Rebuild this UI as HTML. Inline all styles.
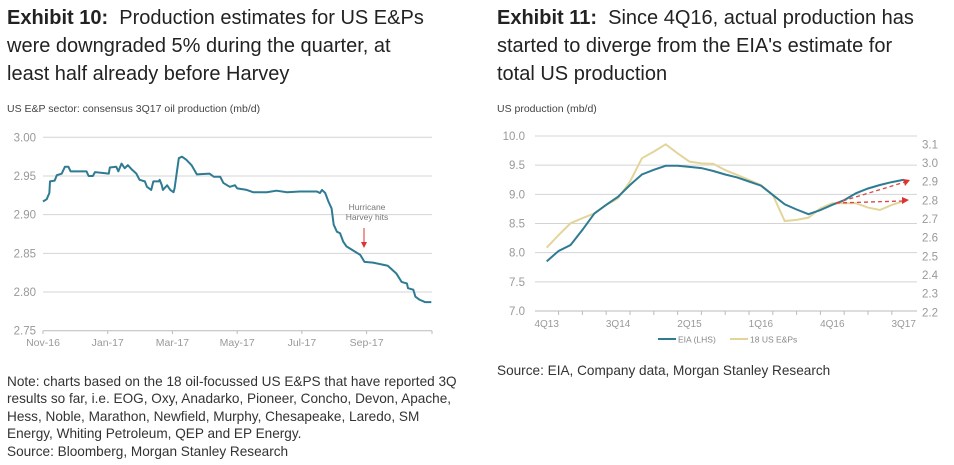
<!DOCTYPE html>
<html><head><meta charset="utf-8">
<style>
html,body{margin:0;padding:0;background:#fff;width:954px;height:465px;overflow:hidden;font-family:"Liberation Sans",sans-serif;color:#222}
.t{position:absolute;font-size:20px;line-height:28px;color:#222;white-space:nowrap}
.note{position:absolute;font-size:13.6px;line-height:17.4px;color:#333;white-space:nowrap}
svg{position:absolute;left:0;top:0}
</style></head><body>
<div class="t" style="left:7px;top:4px"><b>Exhibit 10:</b>&nbsp; Production estimates for US E&amp;Ps<br>were downgraded 5% during the quarter, at<br>least half already before Harvey</div>
<div class="t" style="left:497px;top:4px"><b>Exhibit 11:</b>&nbsp; Since 4Q16, actual production has<br>started to diverge from the EIA's estimate for<br>total US production</div>
<div class="note" style="left:7px;top:373px">Note: charts based on the 18 oil-focussed US E&amp;PS that have reported 3Q<br>results so far, i.e. EOG, Oxy, Anadarko, Pioneer, Concho, Devon, Apache,<br>Hess, Noble, Marathon, Newfield, Murphy, Chesapeake, Laredo, SM<br>Energy, Whiting Petroleum, QEP and EP Energy.<br>Source: Bloomberg, Morgan Stanley Research</div>
<div class="note" style="left:497px;top:362px">Source: EIA, Company data, Morgan Stanley Research</div>
<svg id="s" width="954" height="465" xmlns="http://www.w3.org/2000/svg" font-family="Liberation Sans, sans-serif"></svg>
<script>
// Left chart data
const leftTicks=["2.75","2.80","2.85","2.90","2.95","3.00"];
const leftXLabels=["Nov-16","Jan-17","Mar-17","May-17","Jul-17","Sep-17"];
const leftDays=[0,3.5,6,6.6,11,13,17.6,20.7,23.9,26,41,43,47,49,62,63,69,71,74,77,80,84,88,91,96,98,102,104,109,110,112,113,117,120,123,124,128,131,135,140,145,157,161,167,170,176,181,183,192,198,211,220,230,242,258,261,263,266,269,272,274,277,280,283,286,299,303,311,325,333,338,343,344,349,351,355,360,366];
const leftVals=[2.917,2.920,2.928,2.943,2.944,2.951,2.953,2.962,2.962,2.956,2.956,2.950,2.950,2.955,2.953,2.961,2.962,2.956,2.966,2.960,2.964,2.958,2.953,2.945,2.943,2.936,2.932,2.943,2.943,2.945,2.938,2.932,2.938,2.932,2.929,2.934,2.973,2.975,2.971,2.964,2.952,2.953,2.949,2.949,2.941,2.936,2.938,2.934,2.932,2.929,2.929,2.931,2.929,2.930,2.930,2.928,2.932,2.928,2.917,2.908,2.887,2.878,2.876,2.865,2.859,2.848,2.839,2.838,2.834,2.824,2.813,2.811,2.805,2.803,2.794,2.790,2.787,2.787];
// Right chart data
const rightCats=["4Q13","1Q14","2Q14","3Q14","4Q14","1Q15","2Q15","3Q15","4Q15","1Q16","2Q16","3Q16","4Q16","1Q17","2Q17","3Q17"];
const rightLabels=["4Q13","3Q14","2Q15","1Q16","4Q16","3Q17"];
const leftAxisTicks=["7.0","7.5","8.0","8.5","9.0","9.5","10.0"];
const rightAxisTicks=["2.2","2.3","2.4","2.5","2.6","2.7","2.8","2.9","3.0","3.1"];
const eiaVals=[7.85,8.03,8.13,8.39,8.67,8.82,8.96,9.16,9.34,9.42,9.49,9.49,9.47,9.45,9.40,9.34,9.29,9.22,9.15,8.99,8.83,8.74,8.66,8.73,8.82,8.90,9.02,9.10,9.16,9.21,9.25];
const epVals=[2.546,2.614,2.677,2.704,2.730,2.775,2.811,2.900,3.025,3.061,3.100,3.052,3.007,2.998,2.995,2.962,2.936,2.909,2.882,2.829,2.689,2.695,2.707,2.757,2.784,2.784,2.784,2.761,2.748,2.775,2.796];

const s=document.getElementById('s');
const NS='http://www.w3.org/2000/svg';
function mk(tag,a,txt){const e=document.createElementNS(NS,tag);for(const k in a)e.setAttribute(k,a[k]);if(txt!==undefined)e.textContent=txt;s.appendChild(e);return e;}

// ---- Left chart ----
const lx=d=>43+d*1.061, ly=v=>330.7-(v-2.75)/0.25*193.4;
let e=mk('text',{x:7,y:112,'font-size':10.5,fill:'#444'},'US E&P sector: consensus 3Q17 oil production (mb/d)');

leftTicks.forEach(t=>{const y=ly(+t);
 if(+t>2.76){e=mk('line',{x1:43,x2:432,y1:y,y2:y,stroke:'#d4d4d4','stroke-width':1});}
 e=mk('text',{x:36,y:y+4,'font-size':11.5,fill:'#999','text-anchor':'end'},t);
 });
e=mk('line',{x1:43,x2:432,y1:330.7,y2:330.7,stroke:'#bbb'});
leftXLabels.forEach((t,i)=>{const x=lx(i*61);
 e=mk('line',{x1:x,x2:x,y1:330.7,y2:334,stroke:'#bbb'});
 e=mk('text',{x:x,y:346,'font-size':10.5,fill:'#999','text-anchor':'middle'},t);
 });
e=mk('line',{x1:432,x2:432,y1:330.7,y2:334,stroke:'#bbb'});
e=mk('polyline',{points:leftDays.map((d,i)=>lx(d)+','+ly(leftVals[i])).join(' '),fill:'none',stroke:'#2f7b93','stroke-width':2,'stroke-linejoin':'round'});

e=mk('text',{x:367,y:210,'font-size':8.5,fill:'#777','text-anchor':'middle'},'Hurricane');
e=mk('text',{x:367,y:220,'font-size':8.5,fill:'#777','text-anchor':'middle'},'Harvey hits');
e=mk('line',{x1:364,x2:364,y1:228,y2:243,stroke:'#d33','stroke-width':1});
e=mk('polygon',{points:'361,242 367,242 364,248',fill:'#d33'});

// ---- Right chart ----
const rx=i=>546.7+i*11.9; // half-quarter index
const ryL=v=>311-(v-7)/3*175, ryR=v=>312.3-(v-2.2)/0.9*168;
e=mk('text',{x:497,y:112,'font-size':10.5,fill:'#444'},'US production (mb/d)');
leftAxisTicks.forEach(t=>{const y=ryL(+t);
 e=mk('line',{x1:535,x2:917,y1:y,y2:y,stroke:+t===7?'#bbb':'#d4d4d4'});
 e=mk('text',{x:525,y:y+4,'font-size':11.5,fill:'#999','text-anchor':'end'},t);});
rightAxisTicks.forEach(t=>{const y=ryR(+t);
 e=mk('text',{x:922,y:y+4,'font-size':11.5,fill:'#999'},t);});
rightCats.forEach((c,i)=>{const x=546.7+(i-0.5)*23.8;
 if(i>0){e=mk('line',{x1:x,x2:x,y1:311,y2:315,stroke:'#bbb'});}
 if(rightLabels.includes(c)){e=mk('text',{x:546.7+i*23.8,y:327,'font-size':10,fill:'#999','text-anchor':'middle'},c);}});
e=mk('polyline',{points:epVals.map((v,i)=>rx(i)+','+ryR(v)).join(' '),fill:'none',stroke:'#e3d59a','stroke-width':2});

e=mk('polyline',{points:eiaVals.map((v,i)=>rx(i)+','+ryL(v)).join(' '),fill:'none',stroke:'#2f7b93','stroke-width':2});

// divergence arrows
e=mk('line',{x1:836,y1:203,x2:905,y2:182,stroke:'#d44','stroke-width':1.3,'stroke-dasharray':'4,3'});
e=mk('polygon',{points:'910,180 903,179 905,186',fill:'#d33'});
e=mk('line',{x1:836,y1:203,x2:903,y2:201,stroke:'#d44','stroke-width':1.3,'stroke-dasharray':'4,3'});
e=mk('polygon',{points:'909,200 902,197 902,204',fill:'#d33'});
// legend
e=mk('line',{x1:658,x2:676,y1:339,y2:339,stroke:'#2f7b93','stroke-width':2});
e=mk('text',{x:678,y:342.5,'font-size':8.5,fill:'#888'},'EIA (LHS)');
e=mk('line',{x1:730,x2:748,y1:339,y2:339,stroke:'#e3d59a','stroke-width':2});
e=mk('text',{x:750,y:342.5,'font-size':8.5,fill:'#888'},'18 US E&Ps');
</script>
</body></html>
